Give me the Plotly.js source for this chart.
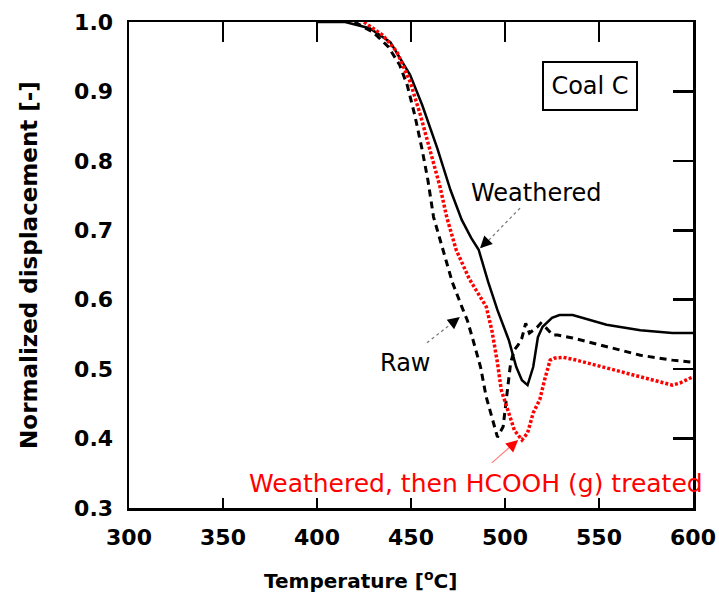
<!DOCTYPE html>
<html>
<head>
<meta charset="utf-8">
<script src="https://cdn.plot.ly/plotly-3.0.1.min.js"></script>
<style>html,body{margin:0;padding:0;background:#fff;}#chart{width:719px;height:597px;}</style>
</head>
<body>
<div id="chart"></div>
<script>
// ---- Data ----
const weatheredT = [400, 415, 428, 439, 449.5, 456, 464, 471, 477, 482, 486, 491, 496, 502, 506, 509, 512, 515, 517.5, 520, 525, 529, 536, 554, 572, 589, 600];
const weatheredV = [1.0, 1.0, 0.991, 0.971, 0.924, 0.880, 0.818, 0.758, 0.715, 0.689, 0.672, 0.626, 0.585, 0.542, 0.503, 0.484, 0.477, 0.503, 0.546, 0.561, 0.574, 0.578, 0.578, 0.564, 0.556, 0.552, 0.552];

const rawT = [420, 430, 438, 444, 448, 452, 456, 459, 462, 467, 472, 477, 480, 483, 487, 490, 494, 496, 499, 501, 503, 505, 507, 509, 511, 513, 515, 517, 519, 522, 525.5, 528, 536, 554, 572, 589, 600];
const rawV = [1.0, 0.985, 0.964, 0.938, 0.909, 0.866, 0.815, 0.772, 0.719, 0.672, 0.625, 0.590, 0.570, 0.542, 0.503, 0.460, 0.422, 0.402, 0.417, 0.460, 0.509, 0.528, 0.535, 0.545, 0.566, 0.552, 0.556, 0.560, 0.566, 0.559, 0.549, 0.549, 0.545, 0.532, 0.520, 0.513, 0.510];

const treatedT = [425, 435, 442.5, 449.5, 455, 459, 463, 465.5, 469, 474, 481, 488, 490, 493, 496, 498, 502, 505, 509, 512, 515, 518.5, 521, 524, 526.5, 531, 538, 554, 572, 589, 593, 600];
const treatedV = [1.0, 0.981, 0.957, 0.914, 0.866, 0.827, 0.790, 0.762, 0.719, 0.672, 0.630, 0.600, 0.590, 0.556, 0.509, 0.470, 0.437, 0.412, 0.398, 0.408, 0.437, 0.456, 0.484, 0.513, 0.516, 0.517, 0.513, 0.502, 0.489, 0.477, 0.480, 0.489];

const xTicks = [300, 350, 400, 450, 500, 550, 600];
const yTicks = [0.3, 0.4, 0.5, 0.6, 0.7, 0.8, 0.9, 1.0];
const yTickText = ['0.3', '0.4', '0.5', '0.6', '0.7', '0.8', '0.9', '1.0'];

// ---- Traces ----
const traces = [
  {x: weatheredT, y: weatheredV, mode: 'lines', name: 'Weathered',
   line: {color: '#000000', width: 2.5}},
  {x: rawT, y: rawV, mode: 'lines', name: 'Raw',
   line: {color: '#000000', width: 3, dash: '7px,5px'}},
  {x: treatedT, y: treatedV, mode: 'lines', name: 'Weathered, then HCOOH (g) treated',
   line: {color: '#ff0000', width: 3.5, dash: '3px,2px'}},
  // invisible trace to activate top/right tick axes
  {x: [300, 600], y: [0.3, 1.0], xaxis: 'x2', yaxis: 'y2', mode: 'lines',
   line: {width: 0}, hoverinfo: 'skip', showlegend: false}
];

const tickFont = {family: 'DejaVu Sans', size: 22, color: '#000', weight: 'bold'};
const annFont = {family: 'DejaVu Sans', size: 24, color: '#000'};

const layout = {
  width: 719, height: 597,
  margin: {l: 129, r: 26, t: 22, b: 89},
  paper_bgcolor: '#fff', plot_bgcolor: '#fff',
  showlegend: false,
  xaxis: {
    range: [300, 600], tickvals: xTicks, ticks: 'inside', ticklen: 10, tickwidth: 2.5,
    tickcolor: '#000', showline: true, linecolor: '#000', linewidth: 2.5, mirror: true,
    showgrid: false, zeroline: false, tickfont: tickFont, ticklabelstandoff: 8
  },
  yaxis: {
    range: [0.3, 1.0], tickvals: yTicks, ticktext: yTickText, ticks: '',
    showline: true, linecolor: '#000', linewidth: 2.5, mirror: true,
    showgrid: false, zeroline: false, tickfont: tickFont, ticklabelstandoff: 9,
    title: {text: 'Normalized displacement [-]', font: {family: 'DejaVu Sans', size: 23, color: '#000', weight: 'bold'}, standoff: 30}
  },
  xaxis2: {
    overlaying: 'x', side: 'top', matches: 'x', range: [300, 600], tickvals: xTicks,
    ticks: 'inside', ticklen: 20, tickwidth: 2.5, tickcolor: '#000',
    showticklabels: false, showline: false, showgrid: false, zeroline: false
  },
  yaxis2: {
    overlaying: 'y', side: 'right', range: [0.3, 1.0], tickvals: yTicks,
    ticks: 'inside', ticklen: 20, tickwidth: 2.5, tickcolor: '#000',
    showticklabels: false, showline: false, showgrid: false, zeroline: false
  },
  shapes: [
    {type: 'line', xref: 'x', yref: 'y', x0: 508, y0: 0.732, x1: 487.5, y1: 0.675,
     line: {color: '#777', width: 1.2, dash: 'dot'}},
    {type: 'line', xref: 'x', yref: 'y', x0: 458.5, y0: 0.538, x1: 475, y1: 0.573,
     line: {color: '#777', width: 1.2, dash: 'dot'}},
    {type: 'line', xref: 'x', yref: 'y', x0: 493, y0: 0.365, x1: 506, y1: 0.396,
     line: {color: '#ff8080', width: 1.2}}
  ],
  annotations: [
    // x axis title (offset left of centre, as in the reference)
    {xref: 'paper', yref: 'paper', x: 0.41, y: -0.148, yanchor: 'middle', xanchor: 'center',
     text: 'Temperature [<sup>o</sup>C]', showarrow: false,
     font: {family: 'DejaVu Sans', size: 20, color: '#000', weight: 'bold'}},
    {xref: 'x', yref: 'y', x: 545.2, y: 0.908, text: 'Coal C', showarrow: false,
     font: annFont, bordercolor: '#000', borderwidth: 2, borderpad: 6, width: 80, height: 34,
     bgcolor: '#fff'},
    {xref: 'x', yref: 'y', x: 516.5, y: 0.754, text: 'Weathered', showarrow: false, font: annFont},
    {xref: 'x', yref: 'y', x: 446.8, y: 0.509, text: 'Raw', showarrow: false, font: annFont},
    {xref: 'x', yref: 'y', x: 484.6, y: 0.335, text: 'Weathered, then HCOOH (g) treated',
     showarrow: false, font: {family: 'DejaVu Sans', size: 25, color: '#ff0000'}},
    // arrow heads
    {xref: 'x', yref: 'y', x: 486.7, y: 0.674, text: '', showarrow: true, arrowhead: 2,
     arrowsize: 1.6, arrowwidth: 1.5, arrowcolor: '#000', ax: 9, ay: -9},
    {xref: 'x', yref: 'y', x: 476, y: 0.575, text: '', showarrow: true, arrowhead: 2,
     arrowsize: 1.6, arrowwidth: 1.5, arrowcolor: '#000', ax: -9, ay: 7},
    {xref: 'x', yref: 'y', x: 507, y: 0.398, text: '', showarrow: true, arrowhead: 2,
     arrowsize: 1.6, arrowwidth: 1.5, arrowcolor: '#ff0000', ax: -9, ay: 8}
  ]
};

Plotly.newPlot('chart', traces, layout, {displayModeBar: false, staticPlot: true});
</script>
</body>
</html>
